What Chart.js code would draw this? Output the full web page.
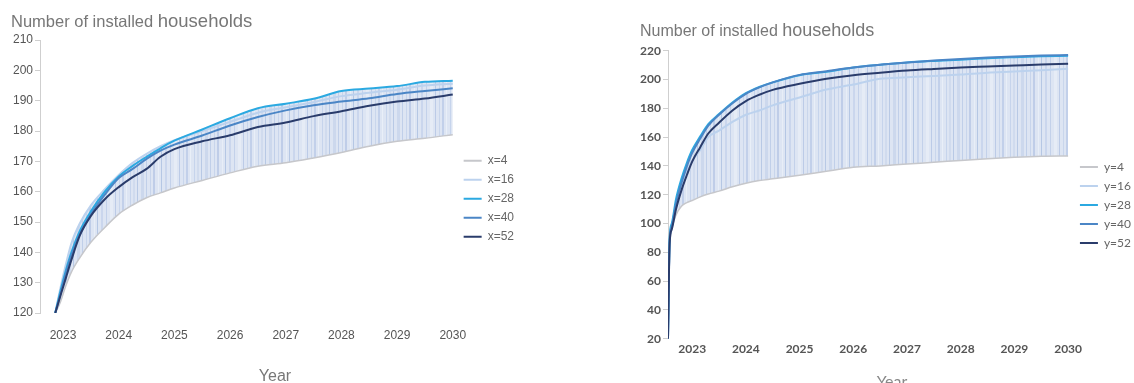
<!DOCTYPE html>
<html>
<head>
<meta charset="utf-8">
<script src="https://cdn.jsdelivr.net/npm/chart.js@4.4.0/dist/chart.umd.min.js"></script>
<style>
  html, body { margin: 0; padding: 0; background: #fff; overflow: hidden; }
  #wrap { position: relative; width: 1134px; height: 383px; overflow: hidden; }
  #left { position: absolute; left: 0; top: 0; }
  #right { position: absolute; left: 560px; top: 0; }
</style>
</head>
<body>
<div id="wrap">
  <canvas id="left" width="560" height="383"></canvas>
  <canvas id="right" width="590" height="383"></canvas>
</div>
<script>
// tick labels shared by both panels
const tickYears = [2023, 2024, 2025, 2026, 2027, 2028, 2029, 2030];

// left panel
const leftNames = ['x=4', 'x=16', 'x=28', 'x=40', 'x=52'];
const leftYears = [2022.86, 2022.95, 2023.05, 2023.15, 2023.3, 2023.5, 2023.75, 2024.0, 2024.25, 2024.5, 2024.75,
                   2025.0, 2025.5, 2026.0, 2026.5, 2027.0, 2027.5, 2028.0, 2028.5, 2029.0, 2029.5, 2030.0];
const leftX4  = [120, 123.5, 129, 133.5, 138.2, 143.3, 148.2, 152.6, 155.6, 158, 159.6,
                 161.2, 163.7, 166.2, 168.4, 169.5, 171.1, 172.9, 175, 176.6, 177.6, 178.8];
const leftX16 = [120, 128, 136, 143, 149.5, 155.5, 160.8, 165.5, 169.5, 172.5, 175,
                 177, 180, 183, 186, 187.8, 189.5, 191.5, 192.6, 193.6, 195, 195.6];
const leftX28 = [120, 127, 134, 140, 147, 153.5, 160, 165, 168.5, 171.5, 174.3,
                 176.8, 180.5, 184.2, 187.5, 189, 190.6, 193.2, 194, 194.8, 196.2, 196.6];
const leftX40 = [120, 126, 133, 139, 146, 152.5, 159, 164.5, 167.5, 170.8, 173.5,
                 175.5, 178.5, 181.8, 184.6, 186.8, 188.5, 189.7, 190.8, 192.2, 193.2, 194.1];
const leftX52 = [120, 125.5, 131.5, 137.5, 145.5, 152, 157.5, 161.5, 164.8, 167.5, 171.5,
                 174, 176.6, 178.6, 181.3, 182.8, 184.9, 186.5, 188.3, 189.7, 190.7, 192];

// right panel
const rightNames = ['y=4', 'y=16', 'y=28', 'y=40', 'y=52'];
const rightYears = [2022.55, 2022.58, 2022.62, 2022.7, 2022.8, 2022.9, 2023.0, 2023.15, 2023.3, 2023.5, 2023.75,
                    2024.0, 2024.25, 2024.5, 2025.0, 2025.5, 2026.0, 2026.5, 2027.0, 2027.5, 2028.0, 2028.5,
                    2029.0, 2029.5, 2030.0];
const rightY4  = [20, 82, 96, 106, 112, 114.5, 116, 118.5, 120.5, 122.5, 125.5,
                  128, 129.8, 131, 133.5, 136.3, 139, 140, 141.3, 142.5, 143.8, 145, 146, 146.7, 146.9];
const rightY16 = [20, 87, 97, 112, 126, 136, 143.5, 151, 160, 164.5, 170.5,
                  175.5, 178.5, 182, 187.5, 193, 196.5, 200.5, 201.5, 202.5, 203.5, 204.7, 205.5, 206.5, 207.4];
const rightY28 = [20, 90, 100, 117, 131, 142, 151, 160.5, 169, 176, 184,
                  190.5, 194.8, 198, 203, 205.3, 208.3, 210.2, 211.8, 212.9, 213.8, 214.8, 215.5, 216.1, 216.5];
const rightY40 = [20, 88, 98, 114, 128, 139.5, 149, 159, 168, 175.5, 183.5,
                  190, 194.5, 198, 203.2, 205.8, 208.3, 210.3, 211.8, 213.2, 214.3, 215.2, 216, 216.6, 217];
const rightY52 = [20, 86, 96, 110, 123, 133.5, 143, 153, 162.5, 170, 178.5,
                  185, 189.4, 192.8, 197, 200.5, 203, 204.7, 206.2, 207.3, 208.3, 209, 209.7, 210.4, 210.9];

const colors = ['#c6c7cb', '#bcd2ee', '#2ba9e1', '#4b86c6', '#2a3c6b'];
const widths = [1.5, 2, 2, 2, 2];

// vertical hatch used for the band between the lowest and highest curve
function stripes() {
  const c = document.createElement('canvas');
  c.width = 64; c.height = 4;
  const g = c.getContext('2d');
  g.fillStyle = '#dde5f3';
  g.fillRect(0, 0, 64, 4);
  const marks = [[2,1,'#c6d4ec'],[5,2,'#d0dbee'],[9,1,'#b8c9e5'],[13,3,'#ccd8ed'],[18,1,'#c0cfe9'],
                 [22,1,'#c8d5ec'],[25,2,'#bfcde8'],[30,1,'#e8eef7'],[33,1,'#b5c7e4'],[37,2,'#cad6ed'],
                 [42,1,'#c3d1ea'],[46,3,'#e6ecf6'],[51,1,'#bccbe7'],[55,1,'#c9d6ec'],[58,2,'#c2d0ea'],[62,1,'#e9eff8']];
  marks.forEach(m => { g.fillStyle = m[2]; g.fillRect(m[0], 0, m[1], 4); });
  return g.createPattern(c, 'repeat');
}

function upper(series) {
  return series[0].map((_, i) => Math.max(...series.map(s => s[i])));
}

function buildDatasets(years, series, names) {
  const ds = series.map((s, i) => ({
    label: names[i],
    data: years.map((x, j) => ({x: x, y: s[j]})),
    borderColor: colors[i],
    backgroundColor: colors[i],
    borderWidth: widths[i],
    pointRadius: 0,
    fill: false,
    order: -i,
    cubicInterpolationMode: 'monotone'
  }));
  const top = upper(series.slice(1));
  ds.push({
    label: 'band',
    data: years.map((x, j) => ({x: x, y: top[j]})),
    borderWidth: 0,
    borderColor: 'rgba(0,0,0,0)',
    backgroundColor: stripes(),
    pointRadius: 0,
    fill: 0,
    order: 10,
    cubicInterpolationMode: 'monotone'
  });
  return ds;
}

// title with two font sizes and the "Year" caption
const textPlugin = {
  id: 'texts',
  afterDraw(chart, args, o) {
    const ctx = chart.ctx;
    ctx.save();
    ctx.fillStyle = o.color;
    ctx.textBaseline = 'alphabetic';
    let x = o.titleX;
    o.parts.forEach(p => {
      ctx.font = p.size + 'px ' + o.family;
      ctx.fillText(p.text, x, o.titleY);
      x += ctx.measureText(p.text).width;
    });
    ctx.font = o.axisSize + 'px ' + o.axisFamily;
    ctx.fillStyle = o.axisColor;
    ctx.textAlign = 'center';
    ctx.fillText('Year', o.axisX, o.axisY);
    ctx.restore();
  }
};

function makeChart(id, cfg) {
  const nSeries = cfg.names.length;
  return new Chart(document.getElementById(id), {
    type: 'line',
    data: { datasets: buildDatasets(cfg.years, cfg.series, cfg.names) },
    plugins: [textPlugin],
    options: {
      responsive: false,
      animation: false,
      events: [],
      layout: { padding: cfg.padding },
      scales: {
        x: {
          type: 'linear',
          min: cfg.xMin, max: cfg.xMax,
          grid: { display: false, drawTicks: false },
          border: { display: false },
          afterBuildTicks: s => { s.ticks = tickYears.map(v => ({value: v})); },
          ticks: { padding: cfg.xPad, color: cfg.tickColor, font: cfg.tickFont, callback: v => String(v), maxRotation: 0 }
        },
        y: {
          min: cfg.yMin, max: cfg.yMax,
          ticks: { stepSize: cfg.yStep, padding: 2, color: cfg.tickColor, font: cfg.tickFont },
          grid: { drawOnChartArea: false, drawTicks: true, tickLength: 5, color: '#cfcfcf' },
          border: { display: true, color: '#cfcfcf' },
          afterFit: s => { s.width = cfg.yWidth; }
        }
      },
      plugins: {
        title: { display: false },
        tooltip: { enabled: false },
        legend: {
          position: 'right',
          labels: {
            boxWidth: 18, boxHeight: 2, padding: 7,
            color: '#666', font: cfg.legendFont,
            filter: item => item.datasetIndex < nSeries,
            sort: (a, b) => a.datasetIndex - b.datasetIndex,
            generateLabels: chart => Chart.defaults.plugins.legend.labels.generateLabels(chart)
              .map(l => Object.assign(l, { lineWidth: 0 }))
          }
        },
        texts: cfg.texts
      }
    }
  });
}

makeChart('left', {
  names: leftNames, years: leftYears,
  series: [leftX4, leftX16, leftX28, leftX40, leftX52],
  xMin: 2022.586, xMax: 2030.07,
  yMin: 120, yMax: 210, yStep: 10, yWidth: 40,
  padding: { top: 40, right: 36, bottom: 25.6, left: 0 },
  xPad: 15,
  tickColor: '#555',
  tickFont: { family: 'Liberation Sans', size: 12 },
  legendFont: { family: 'Liberation Sans', size: 12 },
  texts: {
    titleX: 11, titleY: 26.5, color: '#777', family: 'Liberation Sans',
    parts: [{ text: 'Number of installed ', size: 16.5 }, { text: 'households', size: 18.5 }],
    axisX: 275, axisY: 381, axisSize: 16, axisFamily: 'Liberation Sans', axisColor: '#777'
  }
});

makeChart('right', {
  names: rightNames, years: rightYears,
  series: [rightY4, rightY16, rightY28, rightY40, rightY52],
  xMin: 2022.55, xMax: 2030.09,
  yMin: 20, yMax: 220, yStep: 20, yWidth: 108,
  padding: { top: 50.7, right: 9, bottom: 23.9, left: 0 },
  xPad: 3,
  tickColor: '#555',
  tickFont: { family: 'Lato', size: 12, weight: 'bold' },
  legendFont: { family: 'Lato', size: 12 },
  texts: {
    titleX: 80, titleY: 36, color: '#777', family: 'Liberation Sans',
    parts: [{ text: 'Number of installed ', size: 16 }, { text: 'households', size: 18 }],
    axisX: 332, axisY: 387, axisSize: 16, axisFamily: 'Lato', axisColor: '#888'
  }
});
</script>
</body>
</html>
